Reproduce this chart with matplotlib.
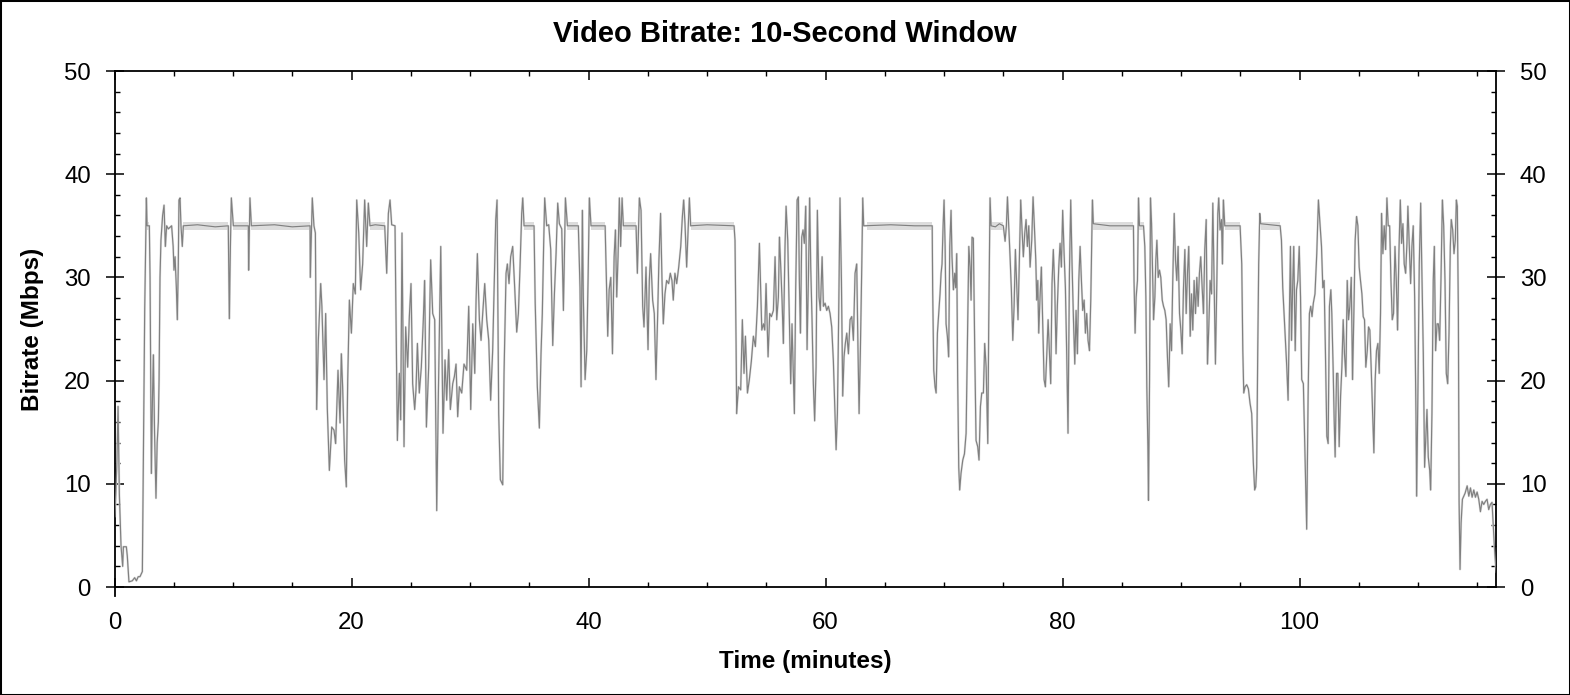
import matplotlib
matplotlib.use("Agg")
import matplotlib.pyplot as plt
from matplotlib.ticker import MultipleLocator
from matplotlib.patches import Rectangle
import numpy as np

# ---- data ----
time_min = [
    0.04, 0.2, 0.30, 0.41, 0.55, 0.69, 0.75, 1.0, 1.08, 1.22, 1.5, 1.7, 1.85, 2.0, 2.15, 2.35,
    2.43, 2.55, 2.69, 2.75, 2.94, 3.0, 3.11, 3.2, 3.28, 3.38, 3.5, 3.6, 3.7, 3.76, 3.84, 3.92,
    4.06, 4.18, 4.29, 4.40, 4.54, 4.82, 4.95, 5.02, 5.11, 5.22, 5.30, 5.38, 5.44, 5.53, 5.61,
    5.72, 5.81, 7.0, 8.5, 9.6, 9.69, 9.78, 9.86, 10.03, 11.29, 11.32, 11.43, 11.55, 13.5, 15.0,
    16.5, 16.52, 16.69, 16.83, 16.95, 17.06, 17.2, 17.4, 17.5, 17.68, 17.82, 17.96, 18.13,
    18.33, 18.52, 18.66, 18.86, 19.03, 19.14, 19.25, 19.42, 19.56, 19.68, 19.82, 19.99, 20.15,
    20.32, 20.44, 20.61, 20.77, 20.94, 21.11, 21.28, 21.42, 21.56, 22.0, 22.8, 22.97, 23.11,
    23.25, 23.39, 23.67, 23.87, 24.04, 24.15, 24.26, 24.43, 24.57, 24.74, 24.88, 25.02, 25.16,
    25.33, 25.44, 25.56, 25.72, 25.89, 26.06, 26.17, 26.32, 26.51, 26.68, 26.85, 27.02, 27.19,
    27.33, 27.53, 27.72, 27.89, 28.03, 28.2, 28.34, 28.54, 28.68, 28.82, 28.96, 29.1, 29.3,
    29.49, 29.72, 29.89, 30.06, 30.23, 30.4, 30.51, 30.62, 30.79, 30.93, 31.07, 31.24, 31.41,
    31.58, 31.74, 31.91, 32.05, 32.17, 32.28, 32.42, 32.56, 32.76, 32.87, 33.04, 33.15, 33.29,
    33.43, 33.6, 33.77, 33.94, 34.08, 34.22, 34.36, 34.45, 34.56, 35.4, 35.5, 35.68, 35.85,
    35.99, 36.1, 36.21, 36.3, 36.47, 36.64, 36.81, 36.89, 36.98, 37.12, 37.26, 37.4, 37.54,
    37.74, 37.88, 38.05, 38.22, 39.14, 39.28, 39.37, 39.48, 39.56, 39.71, 39.85, 39.96, 40.07,
    40.21, 41.4, 41.54, 41.62, 41.74, 41.88, 42.02, 42.16, 42.27, 42.38, 42.49, 42.6, 42.71,
    42.83, 42.94, 44.01, 44.12, 44.29, 44.43, 44.57, 44.68, 44.85, 45.02, 45.13, 45.24, 45.41,
    45.55, 45.69, 45.83, 45.94, 46.08, 46.2, 46.31, 46.45, 46.59, 46.76, 46.9, 47.04, 47.15,
    47.29, 47.44, 47.61, 47.78, 47.92, 48.03, 48.14, 48.28, 48.42, 48.51, 48.62, 50.0, 52.28,
    52.36, 52.45, 52.5, 52.65, 52.84, 52.98, 53.12, 53.24, 53.41, 53.57, 53.74, 53.91, 54.08,
    54.25, 54.42, 54.62, 54.76, 54.87, 54.98, 55.15, 55.29, 55.43, 55.6, 55.74, 55.88, 56.02,
    56.11, 56.22, 56.33, 56.44, 56.58, 56.67, 56.81, 56.95, 57.06, 57.17, 57.29, 57.37, 57.48,
    57.6, 57.71, 57.79, 57.88, 57.99, 58.1, 58.21, 58.33, 58.44, 58.55, 58.66, 58.75, 58.86,
    58.97, 59.08, 59.2, 59.31, 59.45, 59.56, 59.71, 59.82, 59.96, 60.1, 60.24, 60.38, 60.52,
    60.66, 60.8, 60.89, 61.0, 61.11, 61.22, 61.34, 61.45, 61.56, 61.67, 61.79, 61.93, 62.07,
    62.21, 62.35, 62.49, 62.63, 62.74, 62.83, 62.94, 63.06, 63.14, 63.22, 65.5, 67.5, 69.0,
    69.04, 69.13, 69.24, 69.33, 69.44, 69.55, 69.66, 69.75, 69.83, 69.92, 70.0, 70.09, 70.17,
    70.28, 70.39, 70.48, 70.59, 70.67, 70.79, 70.9, 70.98, 71.07, 71.15, 71.24, 71.32, 71.43,
    71.58, 71.72, 71.86, 71.97, 72.09, 72.2, 72.28, 72.36, 72.47, 72.59, 72.7, 72.84, 72.95,
    73.07, 73.18, 73.32, 73.43, 73.55, 73.69, 73.77, 73.88, 73.97, 74.33, 74.67, 75.0, 75.15,
    75.26, 75.35, 75.46, 75.57, 75.68, 75.8, 75.91, 76.02, 76.13, 76.24, 76.36, 76.47, 76.58,
    76.69, 76.81, 76.92, 77.03, 77.15, 77.26, 77.4, 77.51, 77.62, 77.74, 77.82, 77.91, 77.99,
    78.1, 78.21, 78.33, 78.44, 78.55, 78.66, 78.78, 78.89, 79.0, 79.11, 79.22, 79.34, 79.45,
    79.56, 79.68, 79.79, 79.9, 80.01, 80.13, 80.24, 80.35, 80.46, 80.58, 80.69, 80.8, 80.92,
    81.03, 81.14, 81.25, 81.37, 81.48, 81.59, 81.7, 81.82, 81.93, 82.04, 82.15, 82.27, 82.38,
    82.46, 82.52, 82.6, 84.0, 85.98, 86.03, 86.12, 86.21, 86.32, 86.41, 86.49, 86.83, 86.94,
    87.03, 87.11, 87.2, 87.25, 87.34, 87.42, 87.51, 87.59, 87.68, 87.79, 87.87, 87.96, 88.07,
    88.18, 88.29, 88.41, 88.52, 88.63, 88.74, 88.85, 88.96, 89.08, 89.19, 89.3, 89.42, 89.53,
    89.64, 89.75, 89.87, 89.98, 90.09, 90.2, 90.32, 90.43, 90.54, 90.65, 90.77, 90.88, 90.99,
    91.1, 91.22, 91.33, 91.44, 91.55, 91.66, 91.78, 91.89, 92.0, 92.12, 92.23, 92.34, 92.45,
    92.57, 92.68, 92.79, 92.9, 93.02, 93.1, 93.18, 93.29, 93.41, 93.49, 93.57, 93.69, 94.98,
    95.12, 95.21, 95.29, 95.4, 95.54, 95.68, 95.82, 95.96, 96.1, 96.21, 96.3, 96.38, 96.47,
    96.55, 96.64, 96.72, 97.5, 98.36, 98.47, 98.58, 98.69, 98.81, 98.92, 99.03, 99.15, 99.23,
    99.32, 99.43, 99.51, 99.63, 99.74, 99.85, 99.97, 100.08, 100.18, 100.32, 100.46, 100.6,
    100.72, 100.83, 100.94, 101.05, 101.16, 101.3, 101.45, 101.59, 101.73, 101.85, 101.96,
    102.07, 102.18, 102.3, 102.41, 102.52, 102.64, 102.72, 102.83, 102.92, 103.0, 103.12,
    103.23, 103.34, 103.46, 103.57, 103.68, 103.79, 103.91, 104.02, 104.13, 104.24, 104.36,
    104.47, 104.58, 104.69, 104.81, 104.92, 105.03, 105.14, 105.26, 105.37, 105.48, 105.59,
    105.71, 105.82, 105.93, 106.04, 106.16, 106.27, 106.38, 106.49, 106.61, 106.72, 106.83,
    106.92, 107.03, 107.14, 107.26, 107.37, 107.48, 107.6, 107.71, 107.82, 107.93, 108.05,
    108.16, 108.27, 108.38, 108.5, 108.61, 108.72, 108.83, 108.95, 109.06, 109.14, 109.26,
    109.37, 109.48, 109.59, 109.71, 109.82, 109.88, 109.99, 110.1, 110.22, 110.33, 110.44,
    110.55, 110.67, 110.75, 110.86, 110.98, 111.06, 111.17, 111.28, 111.37, 111.48, 111.6,
    111.71, 111.82, 111.93, 112.05, 112.16, 112.27, 112.38, 112.5, 112.61, 112.72, 112.8,
    112.92, 113.03, 113.14, 113.23, 113.31, 113.4, 113.46, 113.54, 113.63, 113.74, 113.86,
    113.97, 114.14, 114.28, 114.42, 114.56, 114.7, 114.84, 114.98, 115.12, 115.26, 115.4,
    115.54, 115.68, 115.82, 115.96, 116.1, 116.24, 116.33, 116.44, 116.55, 116.6,
]

bitrate_mbps = [
    6.8, 12, 17.5, 9, 4, 2, 3.9, 3.9, 3.0, 0.5, 0.6, 0.9, 0.6, 1.0, 1.0, 1.5,
    12, 27, 37.7, 35, 35, 30, 11, 18, 22.5, 15, 8.6, 14, 16, 20, 30, 33.6,
    36, 37, 33, 35, 34.7, 35, 33, 30.7, 32, 29, 25.9, 31, 37.5, 37.7, 35,
    33, 35, 35.1, 34.9, 35, 26, 33, 37.7, 35, 35, 30.7, 37.7, 35, 35.1, 34.9,
    35, 30, 37.7, 35, 34.3, 17.2, 23.9, 29.4, 27.2, 20.1, 26.5, 17.2, 11.3,
    15.5, 15.2, 13.9, 21, 15.9, 22.6, 19.4, 12.3, 9.7, 20.1, 27.8, 24.6, 29.4,
    28.4, 37.5, 34.3, 28.8, 31.3, 37.5, 33, 37.2, 35, 35.1, 35, 30.4, 36.2,
    37.5, 35.1, 35, 14.2, 20.7, 16.2, 34.3, 13.6, 25.2, 21.3, 26.2, 29.4, 19.7,
    17.2, 19.1, 23.6, 18.8, 21.3, 25.9, 29.7, 15.5, 21.3, 31.7, 26.5, 25.9, 7.4,
    18.8, 33, 14.9, 22, 18.1, 23, 17.2, 19.7, 20.4, 21.6, 16.5, 19.4, 18.8,
    21.6, 21, 27.2, 17.2, 25.5, 20.7, 27.8, 32.3, 25.9, 23.9, 26.5, 29.4, 25.9,
    23.9, 18.1, 22.9, 29.7, 35.6, 37.5, 16.8, 10.4, 9.9, 20.7, 30.4, 31.3, 29.4,
    32, 33, 29, 24.7, 26.5, 31, 36.2, 37.7, 35, 35, 27.5, 19.4, 15.4,
    22.6, 26.5, 33, 37.7, 35, 35.1, 32.7, 28.1, 23.4, 28.4, 32.3, 37.2, 35.2,
    34.7, 26.8, 37.7, 35, 35, 29, 19.4, 36.5, 28.1, 20.1, 22.9, 29.7, 37.7,
    35, 35, 28.1, 24.3, 28.8, 30, 22.6, 32, 34.6, 28.1, 32, 37.7, 33,
    37.7, 35, 35, 30.4, 37.7, 36.5, 27.2, 25.2, 31, 23, 29.7, 32.3, 27.8,
    26.5, 20.1, 26.2, 31.7, 36.2, 29.7, 25.5, 28.4, 29.7, 29.4, 30.4, 29.7, 27.8,
    30.4, 29.4, 31, 33, 35.9, 37.5, 35.2, 31, 35.2, 37.7, 35, 35.1, 35,
    33.6, 23.6, 16.8, 19.4, 19.1, 25.9, 20.7, 24.3, 18.8, 20.1, 21.9, 24.3, 23.3,
    27.2, 33.3, 24.9, 25.5, 24.9, 29.4, 22.3, 26.5, 26.2, 26.8, 32, 25.9, 28.1,
    33.9, 31, 27.8, 23.6, 33, 36.9, 33.6, 25.9, 19.7, 25.5, 20.1, 16.8, 28.8,
    37.5, 37.8, 29.7, 24.6, 33.9, 34.6, 33.3, 36.9, 23, 29.7, 37.7, 31, 25.9,
    19.7, 16.1, 21.3, 36.5, 28.1, 26.8, 32, 27.2, 27.5, 26.8, 27.2, 26.5, 25.2,
    21.9, 16.8, 13.3, 16.8, 26.5, 37.7, 29.7, 18.5, 22.3, 23.6, 24.6, 22.6, 25.9,
    26.2, 23.9, 30.4, 31.3, 22.9, 16.8, 23, 31.3, 37.7, 35, 35.1, 35, 35,
    28.8, 21, 19.4, 18.8, 24.6, 26.5, 28.4, 30.4, 31.3, 35, 37.5, 33, 25.5,
    24.3, 22.3, 33, 36.5, 32, 28.8, 30.4, 29, 32.3, 20.1, 11.6, 9.4, 11,
    12.3, 12.9, 14.9, 23.9, 33, 31, 27.8, 33.9, 33.8, 22.9, 14.2, 13.6, 12.3,
    17.5, 18.8, 18.8, 23.6, 21.3, 13.9, 25.5, 37.7, 35, 34.9, 35.2, 35, 33.5,
    35, 37.8, 35, 32, 28.8, 23.9, 27.2, 32.7, 29.4, 25.9, 32, 37.5, 34.6,
    32, 34.3, 35.6, 33, 35, 31, 33.6, 37.8, 35, 31.7, 27.8, 29.7, 24.6,
    28.1, 31, 25.5, 20.1, 19.4, 22.3, 25.9, 22.9, 19.7, 29.4, 32.7, 29, 22.6,
    27.2, 31, 33.3, 31, 36.5, 32.3, 29, 22.6, 14.9, 30.4, 37.5, 31.3, 25.9,
    21.6, 26.8, 22.6, 29.7, 33, 29.7, 26.8, 27.8, 24.6, 26.5, 23.9, 22.9, 27.8,
    33, 37.5, 35.2, 35, 35, 29.7, 24.6, 28.1, 29.7, 37.7, 35, 35, 33,
    28.1, 19.4, 13.6, 8.4, 20.1, 37.7, 35.2, 31, 25.9, 28.1, 31.7, 33.6, 30,
    30.7, 30, 27.8, 27.2, 26.8, 25.9, 22.3, 19.4, 25.5, 22.9, 29.7, 36.2, 31.7,
    29.7, 33, 26.5, 24.9, 22.6, 28.8, 32.7, 26.5, 30.4, 33, 24.3, 28.4, 24.9,
    29.7, 26.5, 30, 27.2, 30.4, 32, 29, 26.5, 32.7, 35.6, 21.6, 25.2, 29.7,
    28.4, 37.2, 29.7, 21.6, 29.7, 36.2, 37.7, 34.6, 35.6, 31.3, 37.5, 35, 35,
    31.3, 22.9, 18.8, 19.4, 19.6, 19.2, 17.8, 16.8, 12, 9.4, 9.7, 11.6, 22.9,
    31.3, 36.2, 35.2, 35.1, 35, 33.6, 29, 26.5, 23.9, 21.3, 18.1, 27.2, 33,
    23.9, 29.7, 33, 22.9, 28.8, 29.7, 33, 28.1, 20.1, 19.7, 12.6, 5.6,
    18.5, 26.5, 27.2, 26.2, 27.5, 28.4, 32.3, 37.5, 35, 33, 29,
    29.7, 22.9, 14.6, 13.9, 27.2, 28.8, 26.5, 21.3, 16.2, 12.6, 20.7,
    20.7, 13.6, 18.5, 21.3, 25.9, 22.6, 20.4, 29.7, 25.9, 27.2, 30,
    20.1, 26.5, 33.6, 35.9, 35, 31, 29.7, 28.4, 26.2, 25.9, 21.3,
    22.9, 25.2, 24.9, 21.3, 16.8, 13, 20.1, 22.9, 23.6, 20.7, 26.5,
    36.2, 32.3, 35, 32.7, 37.7, 35, 35, 29.7, 25.9, 26.5, 33,
    29.7, 24.9, 32.3, 37.5, 33.3, 35.2, 31.3, 30.4, 33.3, 36.9, 33,
    29.4, 33, 35, 28.1, 16.8, 8.8, 19.4, 31.3, 37.2, 29.7, 22.6,
    11.6, 14.9, 17.2, 12.6, 11.3, 9.4, 16.8, 29.7, 33, 22.9, 25.5,
    25.5, 23.9, 29.7, 37.5, 35, 29.7, 20.7, 19.7, 24.6, 33, 35.6,
    34.6, 32.3, 33.6, 37.5, 36.9, 26.5, 8.3, 1.7, 6.2, 8.5, 8.8,
    9.1, 9.8, 8.8, 9.6, 8.7, 9.4, 8.7, 9.2, 8.5, 7.3, 8.3,
    8.0, 8.3, 8.5, 7.5, 8.0, 8.2, 6.2, 3.9, 2.0, 1.4,
]

# constant-rate stretches where the light-grey spread band is visible
plateau_start = [2.72, 5.81, 10.03, 11.55, 21.56, 34.56, 38.22, 40.21, 42.94, 48.62, 63.5, 73.97, 82.6, 86.49, 93.69, 96.72]
plateau_end   = [2.94, 9.6, 11.29, 16.5, 22.8, 35.4, 39.14, 41.4, 44.01, 52.28, 69.0, 75.0, 85.98, 86.83, 94.98, 98.36]
plateau_level = 35.0
band_halfwidth = 0.4

x_max = 116.6
y_max = 50
x_major, x_minor = 20, 5
y_major, y_minor = 10, 2

title_text = "Video Bitrate: 10-Second Window"
x_label = "Time (minutes)"
y_label = "Bitrate (Mbps)"

# ---- figure ----
W, H, DPI = 1570, 695, 100
fig = plt.figure(figsize=(W / DPI, H / DPI), dpi=DPI)
fig.patch.set_facecolor("white")
font = "Liberation Sans"
plt.rcParams["font.family"] = [font, "DejaVu Sans"]

ax_l, ax_r, ax_t, ax_b = 114.5, 1496.3, 71, 587
ax = fig.add_axes([ax_l / W, 1 - ax_b / H, (ax_r - ax_l) / W, (ax_b - ax_t) / H])

# light band on plateaus
for s, e in zip(plateau_start, plateau_end):
    ax.fill_between([s, e], [plateau_level - band_halfwidth] * 2,
                    [plateau_level + band_halfwidth] * 2,
                    color="#dcdcdc", linewidth=0, zorder=1)
# faint halo around the line
ax.plot(time_min, bitrate_mbps, color="#e0e0e0", linewidth=1.6, zorder=2)
ax.plot(time_min, bitrate_mbps, color="#808080", linewidth=0.85, zorder=3)

ax.set_xlim(0, x_max)
ax.set_ylim(0, y_max)
ax.xaxis.set_major_locator(MultipleLocator(x_major))
ax.xaxis.set_minor_locator(MultipleLocator(x_minor))
ax.yaxis.set_major_locator(MultipleLocator(y_major))
ax.yaxis.set_minor_locator(MultipleLocator(y_minor))

for sp in ax.spines.values():
    sp.set_linewidth(1.3)
    sp.set_color("black")

ax.tick_params(axis="x", which="major", direction="in", length=6.5, width=1.1,
               top=True, bottom=True, labelsize=17.3, pad=18, colors="black")
ax.tick_params(axis="x", which="minor", direction="in", length=3.6, width=1.0,
               top=True, bottom=True)
ax.tick_params(axis="y", which="major", direction="inout", length=13, width=1.1,
               left=True, right=True, labelleft=True, labelright=True,
               labelsize=17.3, pad=10.5, colors="black")
ax.tick_params(axis="y", which="minor", direction="in", length=3.6, width=1.0,
               left=True, right=True)
for lab in ax.get_xticklabels() + ax.get_yticklabels():
    lab.set_fontfamily(font)

# small extension of the left spine below the axis
ax.plot([0, 0], [0, -9.3 / (ax_b - ax_t)], transform=ax.transAxes,
        color="black", linewidth=1.3, clip_on=False, zorder=5)

ax.set_xlabel(x_label, fontsize=17.5, fontweight="bold", fontfamily=font)
ax.set_ylabel(y_label, fontsize=17.5, fontweight="bold", fontfamily=font)
ax.xaxis.set_label_coords(0.5, (ax_b - 650) / (ax_b - ax_t))
ax.yaxis.set_label_coords((44.5 - ax_l) / (ax_r - ax_l), 0.5)

fig.text(0.5, 1 - 34.5 / H, title_text, ha="center", va="center",
         fontsize=21, fontweight="bold", fontfamily=font)

# figure border
fig.patches.append(Rectangle((0, 0), 1, 1, transform=fig.transFigure,
                             fill=False, edgecolor="black", linewidth=2.2))

fig.savefig("out.png", dpi=DPI)
